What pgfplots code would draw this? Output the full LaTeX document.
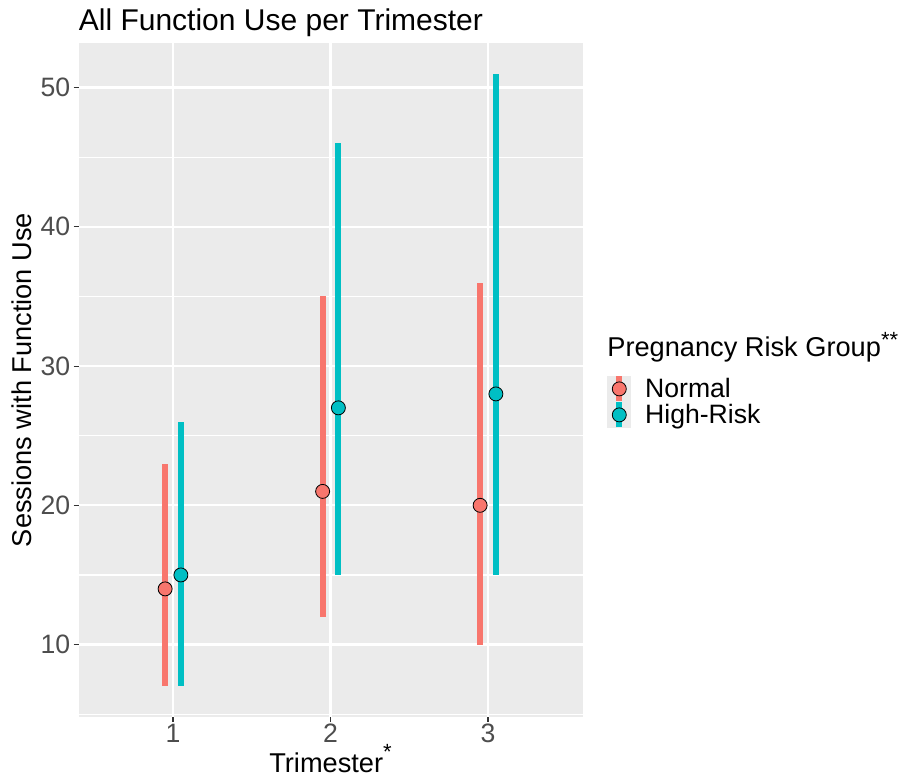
\documentclass[border=0pt]{standalone}
\usepackage{fontspec}
\setmainfont{Liberation Sans}
\usepackage{pgfplots}
\pgfplotsset{compat=1.18}
\definecolor{normalc}{HTML}{F8766D}
\definecolor{highc}{HTML}{00BFC4}
\definecolor{panel}{HTML}{EBEBEB}
\definecolor{tickc}{HTML}{4D4D4D}
\definecolor{tickm}{HTML}{333333}
\newcommand{\supast}[2]{\raisebox{#1}{\fontsize{11}{11}\selectfont #2}}

\begin{document}
\begin{tikzpicture}
\begin{axis}[
  at={(39.25pt,29.5pt)}, anchor=south west,
  scale only axis, width=252pt, height=337pt,
  xmin=0.4, xmax=3.6, ymin=4.8, ymax=53.2,
  clip=false,
  axis background/.style={fill=panel},
  axis line style={draw=none},
  xtick={1,2,3}, ytick={10,20,30,40,50},
  minor ytick={5,15,25,35,45},
  grid=both,
  major grid style={draw=white, line width=1.1pt},
  minor grid style={draw=white, line width=0.55pt},
  tick align=outside, tick pos=left,
  major tick length=2.5pt, minor tick length=0pt,
  major tick style={draw=tickm, line width=0.55pt},
  ticklabel style={font=\fontsize{13.3}{15}\selectfont, text=tickc, inner sep=1.5pt},
  xticklabel style={inner sep=0.8pt},
  /pgf/number format/assume math mode=true,
  xlabel={Trimester\supast{6.5pt}{*}},
  ylabel={Sessions with Function Use},
  label style={font=\fontsize{13.6}{16}\selectfont},
  xlabel style={at={(0.5,-0.0816)}, anchor=base, inner sep=0pt},
  ylabel style={at={(-0.094,0.5)}, anchor=base, inner sep=0pt},
  legend style={at={(1.0486,0.5104)}, anchor=north west, draw=none, fill=none,
    inner sep=0pt, row sep=-2.5pt, column sep=7pt,
    font=\fontsize{13.3}{15}\selectfont,
    nodes={inner sep=0pt, text height=10.75pt, text depth=1.75pt}},
  legend cell align=left,
]
% ranges
\addplot[forget plot, draw=none, mark=none,
  error bars/.cd, y dir=both, y explicit, error mark=none,
  error bar style={line width=3pt, draw=normalc}]
  coordinates {(0.95,14) += (0,9) -= (0,7)
               (1.95,21) += (0,14) -= (0,9)
               (2.95,20) += (0,16) -= (0,10)};
\addplot[forget plot, draw=none, mark=none,
  error bars/.cd, y dir=both, y explicit, error mark=none,
  error bar style={line width=3pt, draw=highc}]
  coordinates {(1.05,15) += (0,11) -= (0,8)
               (2.05,27) += (0,19) -= (0,12)
               (3.05,28) += (0,23) -= (0,13)};
% points
\addplot[only marks, mark=*, mark size=3.5pt,
  mark options={fill=normalc, draw=black, line width=0.4pt},
  legend image code/.code={
    \fill[panel] (0pt,-6.25pt) rectangle (11.5pt,6.25pt);
    \draw[normalc, line width=3pt] (5.75pt,-6.25pt) -- (5.75pt,6.25pt);
    \draw[black, fill=normalc, line width=0.4pt] (5.75pt,0pt) circle (3.5pt);
  }]
  coordinates {(0.95,14) (1.95,21) (2.95,20)};
\addplot[only marks, mark=*, mark size=3.5pt,
  mark options={fill=highc, draw=black, line width=0.4pt},
  legend image code/.code={
    \fill[panel] (0pt,-6.25pt) rectangle (11.5pt,6.25pt);
    \draw[highc, line width=3pt] (5.75pt,-6.25pt) -- (5.75pt,6.25pt);
    \draw[black, fill=highc, line width=0.4pt] (5.75pt,0pt) circle (3.5pt);
  }]
  coordinates {(1.05,15) (2.05,27) (3.05,28)};
\legend{Normal,High-Risk}
\node[anchor=base west, inner sep=0pt, font=\fontsize{15}{17}\selectfont]
  at (axis description cs:0,1.0178) {All Function Use per Trimester};
\node[anchor=base west, inner sep=0pt, font=\fontsize{13.6}{16}\selectfont]
  at (axis description cs:1.0486,0.5346) {Pregnancy Risk Group\supast{4.8pt}{**}};
\end{axis}
\pgfresetboundingbox
\path (0pt,0pt) rectangle (449.5pt,388pt);
\end{tikzpicture}
\end{document}
